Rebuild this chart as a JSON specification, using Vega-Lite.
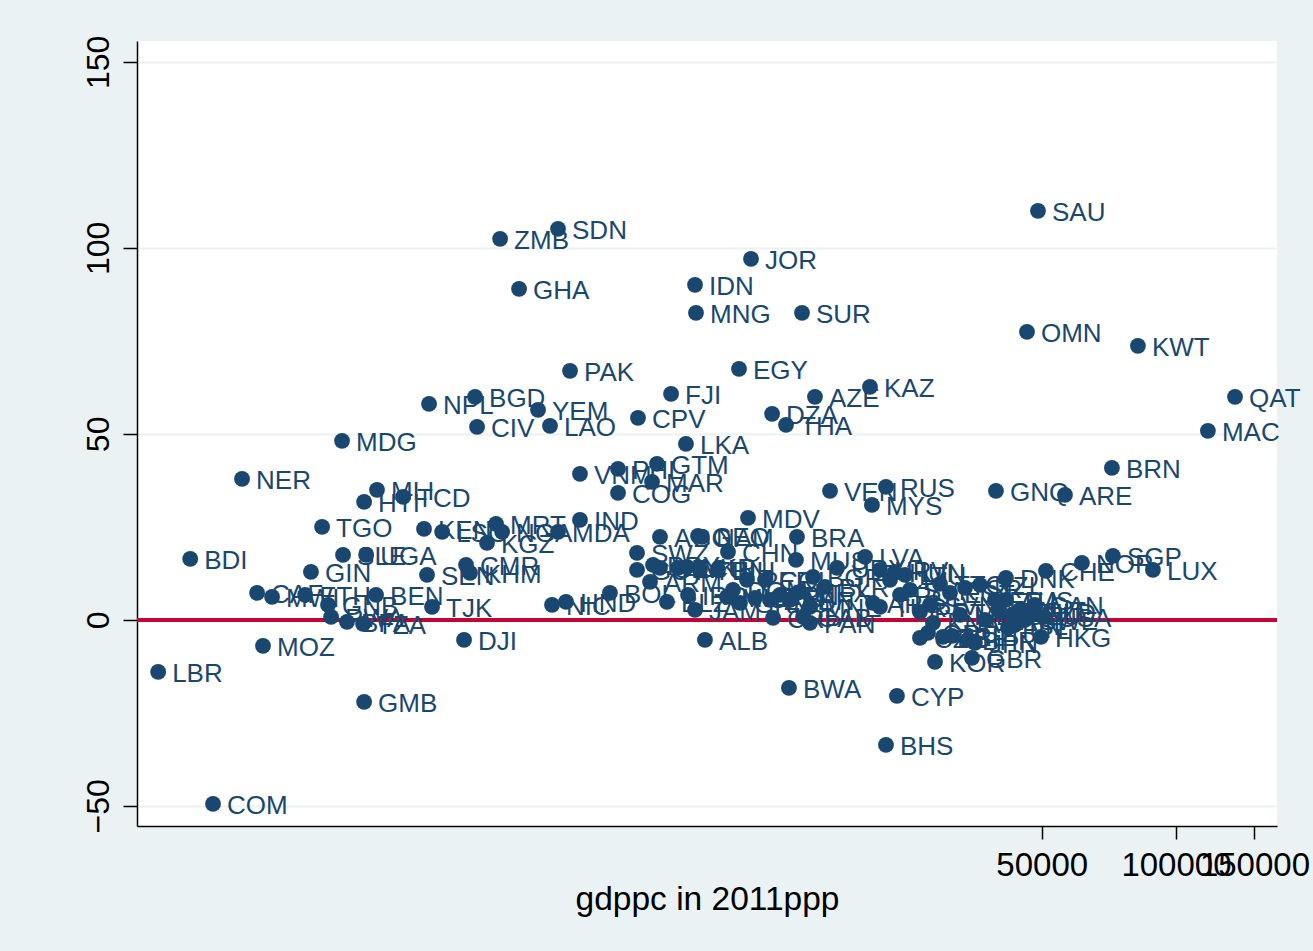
{
  "$schema": "https://vega.github.io/schema/vega-lite/v6.json",
  "width": 1140,
  "height": 785,
  "autosize": {"type": "none"},
  "padding": {"left": 137, "top": 41, "right": 36, "bottom": 125},
  "background": "#EAF2F3",
  "config": {"view": {"fill": "white", "stroke": null}, "font": "Liberation Sans"},
  "data": {"values": [
    {"iso": "LBR", "gdp": 522, "val": -13.98},
    {"iso": "COM", "gdp": 693, "val": -49.46},
    {"iso": "BDI", "gdp": 616, "val": 16.40},
    {"iso": "NER", "gdp": 805, "val": 37.90},
    {"iso": "MOZ", "gdp": 897, "val": -6.99},
    {"iso": "MDG", "gdp": 1349, "val": 48.12},
    {"iso": "GMB", "gdp": 1512, "val": -22.04},
    {"iso": "NPL", "gdp": 2114, "val": 58.06},
    {"iso": "BGD", "gdp": 2681, "val": 59.95},
    {"iso": "CIV", "gdp": 2709, "val": 51.88},
    {"iso": "ZMB", "gdp": 3051, "val": 102.42},
    {"iso": "GHA", "gdp": 3365, "val": 88.98},
    {"iso": "YEM", "gdp": 3711, "val": 56.45},
    {"iso": "LAO", "gdp": 3948, "val": 52.15},
    {"iso": "SDN", "gdp": 4115, "val": 105.11},
    {"iso": "PAK", "gdp": 4378, "val": 66.94},
    {"iso": "VNM", "gdp": 4609, "val": 39.25},
    {"iso": "IND", "gdp": 4609, "val": 26.88},
    {"iso": "PHL", "gdp": 5609, "val": 40.59},
    {"iso": "GTM", "gdp": 6860, "val": 41.94},
    {"iso": "MAR", "gdp": 6686, "val": 37.10},
    {"iso": "COG", "gdp": 5609, "val": 34.14},
    {"iso": "CPV", "gdp": 6219, "val": 54.30},
    {"iso": "FJI", "gdp": 7376, "val": 60.75},
    {"iso": "IDN", "gdp": 8348, "val": 90.05},
    {"iso": "MNG", "gdp": 8390, "val": 82.53},
    {"iso": "LKA", "gdp": 7966, "val": 47.31},
    {"iso": "EGY", "gdp": 10476, "val": 67.47},
    {"iso": "JOR", "gdp": 11145, "val": 97.04},
    {"iso": "SUR", "gdp": 14503, "val": 82.53},
    {"iso": "DZA", "gdp": 12427, "val": 55.38},
    {"iso": "THA", "gdp": 13355, "val": 52.42},
    {"iso": "AZE", "gdp": 15508, "val": 59.95},
    {"iso": "KAZ", "gdp": 20600, "val": 62.63},
    {"iso": "VEN", "gdp": 16760, "val": 34.68},
    {"iso": "RUS", "gdp": 22375, "val": 35.75},
    {"iso": "MYS", "gdp": 20810, "val": 30.91},
    {"iso": "MDV", "gdp": 10975, "val": 27.42},
    {"iso": "BRA", "gdp": 14133, "val": 22.31},
    {"iso": "SAU", "gdp": 49050, "val": 109.95},
    {"iso": "OMN", "gdp": 46340, "val": 77.42},
    {"iso": "KWT", "gdp": 82170, "val": 73.66},
    {"iso": "QAT", "gdp": 135660, "val": 59.95},
    {"iso": "MAC", "gdp": 117940, "val": 50.81},
    {"iso": "BRN", "gdp": 71850, "val": 40.86},
    {"iso": "GNQ", "gdp": 39480, "val": 34.68},
    {"iso": "ARE", "gdp": 56380, "val": 33.60},
    {"iso": "SGP", "gdp": 72220, "val": 17.20},
    {"iso": "NOR", "gdp": 61540, "val": 15.32},
    {"iso": "LUX", "gdp": 88800, "val": 13.44},
    {"iso": "CHE", "gdp": 51110, "val": 13.17},
    {"iso": "DNK", "gdp": 41570, "val": 11.29},
    {"iso": "AUS", "gdp": 41570, "val": 5.38},
    {"iso": "USA", "gdp": 50580, "val": 0.81},
    {"iso": "HKG", "gdp": 49800, "val": -4.57},
    {"iso": "GBR", "gdp": 34880, "val": -10.22},
    {"iso": "KOR", "gdp": 28820, "val": -11.29},
    {"iso": "CYP", "gdp": 23680, "val": -20.43},
    {"iso": "BHS", "gdp": 22375, "val": -33.60},
    {"iso": "BWA", "gdp": 13560, "val": -18.28},
    {"iso": "ALB", "gdp": 8787, "val": -5.38},
    {"iso": "JAM", "gdp": 8348, "val": 2.69},
    {"iso": "PAN", "gdp": 15110, "val": -0.81},
    {"iso": "CRI", "gdp": 12490, "val": 0.54},
    {"iso": "DJI", "gdp": 2533, "val": -5.38},
    {"iso": "TJK", "gdp": 2147, "val": 3.49},
    {"iso": "HND", "gdp": 4288, "val": 4.84},
    {"iso": "NIC", "gdp": 3990, "val": 4.03},
    {"iso": "BOL", "gdp": 5380, "val": 7.26},
    {"iso": "SEN", "gdp": 2092, "val": 12.10},
    {"iso": "CMR", "gdp": 2559, "val": 14.78},
    {"iso": "KHM", "gdp": 2612, "val": 12.63},
    {"iso": "KEN", "gdp": 2060, "val": 24.46},
    {"iso": "LSO", "gdp": 2262, "val": 23.66},
    {"iso": "MRT", "gdp": 2988, "val": 25.81},
    {"iso": "NGA", "gdp": 3083, "val": 23.66},
    {"iso": "KGZ", "gdp": 2852, "val": 20.70},
    {"iso": "MDA", "gdp": 4115, "val": 23.66},
    {"iso": "SLE", "gdp": 1356, "val": 17.47},
    {"iso": "UGA", "gdp": 1528, "val": 17.47},
    {"iso": "GIN", "gdp": 1149, "val": 12.90},
    {"iso": "MLI", "gdp": 1616, "val": 34.95},
    {"iso": "HTI", "gdp": 1512, "val": 31.72},
    {"iso": "TCD", "gdp": 1849, "val": 33.06},
    {"iso": "TGO", "gdp": 1217, "val": 25.00},
    {"iso": "CAF", "gdp": 870, "val": 7.26},
    {"iso": "MWI", "gdp": 940, "val": 6.18},
    {"iso": "ETH", "gdp": 1115, "val": 6.72},
    {"iso": "GNB", "gdp": 1255, "val": 4.03},
    {"iso": "RWA", "gdp": 1275, "val": 0.81},
    {"iso": "BFA", "gdp": 1384, "val": -0.54},
    {"iso": "TZA", "gdp": 1504, "val": -1.08},
    {"iso": "BEN", "gdp": 1608, "val": 6.72},
    {"iso": "AGO", "gdp": 6966, "val": 22.31},
    {"iso": "GEO", "gdp": 8478, "val": 22.58},
    {"iso": "NAM", "gdp": 8654, "val": 22.31},
    {"iso": "SWZ", "gdp": 6187, "val": 18.01},
    {"iso": "CHN", "gdp": 9897, "val": 18.28},
    {"iso": "ARM", "gdp": 6617, "val": 10.22},
    {"iso": "GUY", "gdp": 6187, "val": 13.44},
    {"iso": "PRY", "gdp": 6722, "val": 14.78},
    {"iso": "SLV", "gdp": 6966, "val": 13.98},
    {"iso": "ECU", "gdp": 7644, "val": 14.00},
    {"iso": "UKR", "gdp": 8012, "val": 14.25},
    {"iso": "TUN", "gdp": 8565, "val": 13.44},
    {"iso": "BIH", "gdp": 9399, "val": 13.44},
    {"iso": "BLZ", "gdp": 7222, "val": 4.84},
    {"iso": "IRQ", "gdp": 8052, "val": 6.72},
    {"iso": "MKD", "gdp": 9846, "val": 6.18},
    {"iso": "DOM", "gdp": 10155, "val": 8.06},
    {"iso": "PER", "gdp": 10917, "val": 10.75},
    {"iso": "SRB", "gdp": 11378, "val": 5.91},
    {"iso": "COL", "gdp": 11983, "val": 10.75},
    {"iso": "ZAF", "gdp": 12296, "val": 5.38},
    {"iso": "IRN", "gdp": 12945, "val": 6.72},
    {"iso": "LBN", "gdp": 13630, "val": 5.38},
    {"iso": "GRD", "gdp": 10529, "val": 4.57},
    {"iso": "MEX", "gdp": 14355, "val": 7.53},
    {"iso": "MUS", "gdp": 14060, "val": 16.13},
    {"iso": "BGR", "gdp": 15350, "val": 11.56},
    {"iso": "BLR", "gdp": 16330, "val": 8.87},
    {"iso": "URY", "gdp": 17380, "val": 13.98},
    {"iso": "LVA", "gdp": 20080, "val": 16.94},
    {"iso": "HRV", "gdp": 21690, "val": 13.44},
    {"iso": "CHL", "gdp": 22840, "val": 10.75},
    {"iso": "ARG", "gdp": 20920, "val": 4.57},
    {"iso": "TUR", "gdp": 21690, "val": 3.49},
    {"iso": "MNE", "gdp": 15110, "val": 3.49},
    {"iso": "GAB", "gdp": 14580, "val": 0.81},
    {"iso": "HUN", "gdp": 23440, "val": 12.90},
    {"iso": "LTU", "gdp": 24690, "val": 12.10},
    {"iso": "SVK", "gdp": 25330, "val": 8.06},
    {"iso": "POL", "gdp": 24060, "val": 6.72},
    {"iso": "TTO", "gdp": 29570, "val": 9.68},
    {"iso": "EST", "gdp": 31140, "val": 7.26},
    {"iso": "ISR", "gdp": 33650, "val": 8.60},
    {"iso": "NZL", "gdp": 36360, "val": 9.41},
    {"iso": "FRA", "gdp": 39280, "val": 5.38},
    {"iso": "BEL", "gdp": 40310, "val": 2.15},
    {"iso": "DEU", "gdp": 42880, "val": 1.34},
    {"iso": "AUT", "gdp": 44690, "val": 2.69},
    {"iso": "SWE", "gdp": 45860, "val": 0.0},
    {"iso": "NLD", "gdp": 47060, "val": 2.15},
    {"iso": "CAN", "gdp": 48300, "val": 4.03},
    {"iso": "ISL", "gdp": 43550, "val": -1.34},
    {"iso": "FIN", "gdp": 42010, "val": -2.15},
    {"iso": "ITA", "gdp": 37290, "val": 0.0},
    {"iso": "MLT", "gdp": 32800, "val": 1.34},
    {"iso": "SVN", "gdp": 28080, "val": 4.03},
    {"iso": "PRT", "gdp": 26670, "val": 2.15},
    {"iso": "GRC", "gdp": 27790, "val": -3.49},
    {"iso": "CZE", "gdp": 26670, "val": -4.84},
    {"iso": "ESP", "gdp": 30030, "val": -4.57},
    {"iso": "IRL", "gdp": 31470, "val": -4.30},
    {"iso": "BHR", "gdp": 34160, "val": -5.38},
    {"iso": "JPN", "gdp": 35420, "val": -6.18},
    {"iso": "KNA", "gdp": 28520, "val": -0.81}
  ]},
  "layer": [
    {
      "mark": {"type": "rule", "color": "#C10534", "strokeWidth": 2.5},
      "encoding": {
        "y": {"datum": 0, "type": "quantitative", "title": null}
      }
    },
    {
      "encoding": {
        "x": {
          "field": "gdp", "type": "quantitative",
          "scale": {"type": "log", "domain": [468, 168500], "nice": false, "zero": false},
          "title": "gdppc in 2011ppp",
          "axis": {
            "values": [50000, 100000, 150000], "format": "d",
            "labelFontSize": 33, "labelColor": "black", "labelPadding": 10,
            "tickSize": 13, "tickColor": "black", "tickWidth": 1.5,
            "domainColor": "black", "domainWidth": 1.5, "grid": false,
            "labelFlush": false, "labelOverlap": false,
            "titleFontSize": 33.5, "titleFontWeight": "normal", "titleColor": "black", "titlePadding": 1
          }
        },
        "y": {
          "field": "val", "type": "quantitative",
          "scale": {"domain": [-55.4, 155.6], "nice": false, "zero": false},
          "title": null,
          "axis": {
            "values": [-50, 0, 50, 100, 150],
            "labelAngle": 270, "labelAlign": "center", "labelBaseline": "alphabetic",
            "labelFontSize": 32, "labelColor": "black", "labelPadding": 15,
            "tickSize": 14, "tickColor": "black", "tickWidth": 1.5,
            "domainColor": "black", "domainWidth": 1.5,
            "grid": true, "gridColor": "#EAF2F3", "gridWidth": 2,
            "labelFlush": false, "labelOverlap": false
          }
        }
      },
      "layer": [
        {"mark": {"type": "circle", "size": 250, "color": "#1A476F", "opacity": 1}},
        {
          "mark": {"type": "text", "fontSize": 26, "color": "#1A476F", "align": "left", "baseline": "middle", "dx": 14, "dy": 2},
          "encoding": {"text": {"field": "iso"}}
        }
      ]
    }
  ]
}
